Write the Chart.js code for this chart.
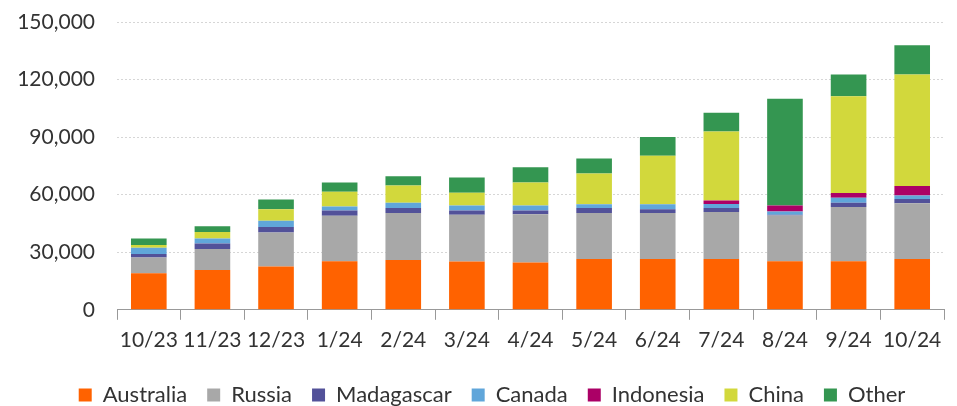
<!DOCTYPE html>
<html>
<head>
<meta charset="utf-8">
<script src="https://cdn.jsdelivr.net/npm/chart.js@4/dist/chart.umd.min.js"></script>
<style>
  html, body { margin: 0; padding: 0; background: #fff; }
  #wrap { width: 957px; height: 406px; }
</style>
</head>
<body>
<div id="wrap"><canvas id="chart" width="957" height="406"></canvas></div>
<script>
// months
const months = ['10/23','11/23','12/23','1/24','2/24','3/24','4/24','5/24','6/24','7/24','8/24','9/24','10/24'];

// stacked values
const australia  = [19100, 20700, 22600, 25300, 25900, 25200, 24700, 26500, 26500, 26500, 25300, 25300, 26500];
const russia     = [8100, 11000, 17700, 23700, 24600, 24400, 25100, 24000, 23900, 24500, 23800, 28300, 29000];
const madagascar = [1900, 2800, 2800, 2700, 2600, 2100, 1900, 2600, 2000, 2100, 500, 2200, 2200];
const canada     = [3300, 2600, 3300, 2100, 2700, 2600, 2600, 1900, 2600, 2100, 1600, 2600, 1900];
const indonesia  = [0, 0, 0, 0, 0, 0, 0, 0, 0, 1800, 3200, 2500, 4900];
const china      = [1400, 3400, 6000, 7700, 9000, 6700, 12000, 16000, 25300, 35900, 0, 50400, 58200];
const other      = [3300, 3100, 5100, 4800, 4800, 7900, 8000, 7900, 9800, 9800, 55600, 11400, 15200];

const yTicks = [0, 30000, 60000, 90000, 120000, 150000];

const series = [
  { label: 'Australia',  data: australia,  color: '#ff6200' },
  { label: 'Russia',     data: russia,     color: '#a8a8a8' },
  { label: 'Madagascar', data: madagascar, color: '#525199' },
  { label: 'Canada',     data: canada,     color: '#60a6da' },
  { label: 'Indonesia',  data: indonesia,  color: '#ab0066' },
  { label: 'China',      data: china,      color: '#d2d83c' },
  { label: 'Other',      data: other,      color: '#349651' }
];

const font = "Lato, 'Noto Sans', sans-serif";

// legend in the original sits a little right of centre
const shiftLegend = {
  id: 'shiftLegend',
  afterLayout(chart) {
    const l = chart.legend;
    if (l) { l.left += 15; l.right += 15; }
  }
};

new Chart(document.getElementById('chart').getContext('2d'), {
  type: 'bar',
  data: {
    labels: months,
    datasets: series.map(s => ({
      label: s.label,
      data: s.data,
      backgroundColor: s.color,
      borderWidth: 0,
      barPercentage: 0.56,
      categoryPercentage: 1
    }))
  },
  options: {
    responsive: false,
    animation: false,
    // negative bottom padding pushes the legend down to the canvas edge
    layout: { padding: { left: 10, right: 13, top: 22, bottom: -10 } },
    plugins: {
      tooltip: { enabled: false },
      legend: {
        position: 'bottom',
        labels: {
          boxWidth: 13, boxHeight: 13, padding: 20,
          color: '#333', font: { family: font, size: 22 }
        }
      }
    },
    scales: {
      x: {
        stacked: true,
        grid: { offset: true, drawOnChartArea: false, tickLength: 10, color: '#999' },
        border: { color: '#999', width: 1 },
        ticks: { color: '#333', padding: 8, font: { family: font, size: 21 }, maxRotation: 0 },
        afterFit: axis => { axis.height += 3; }
      },
      y: {
        stacked: true,
        min: 0, max: 150000,
        afterBuildTicks: axis => { axis.ticks = yTicks.map(v => ({ value: v })); },
        afterFit: axis => { axis.width = 107; },
        grid: { drawTicks: true, tickLength: 14, tickColor: 'rgba(0,0,0,0)', color: '#d6d6d6' },
        border: { display: false, dash: [2, 2] },
        ticks: {
          color: '#333', padding: 8, font: { family: font, size: 21 },
          callback: v => v.toLocaleString('en-US')
        }
      }
    }
  },
  plugins: [shiftLegend]
});
</script>
</body>
</html>
